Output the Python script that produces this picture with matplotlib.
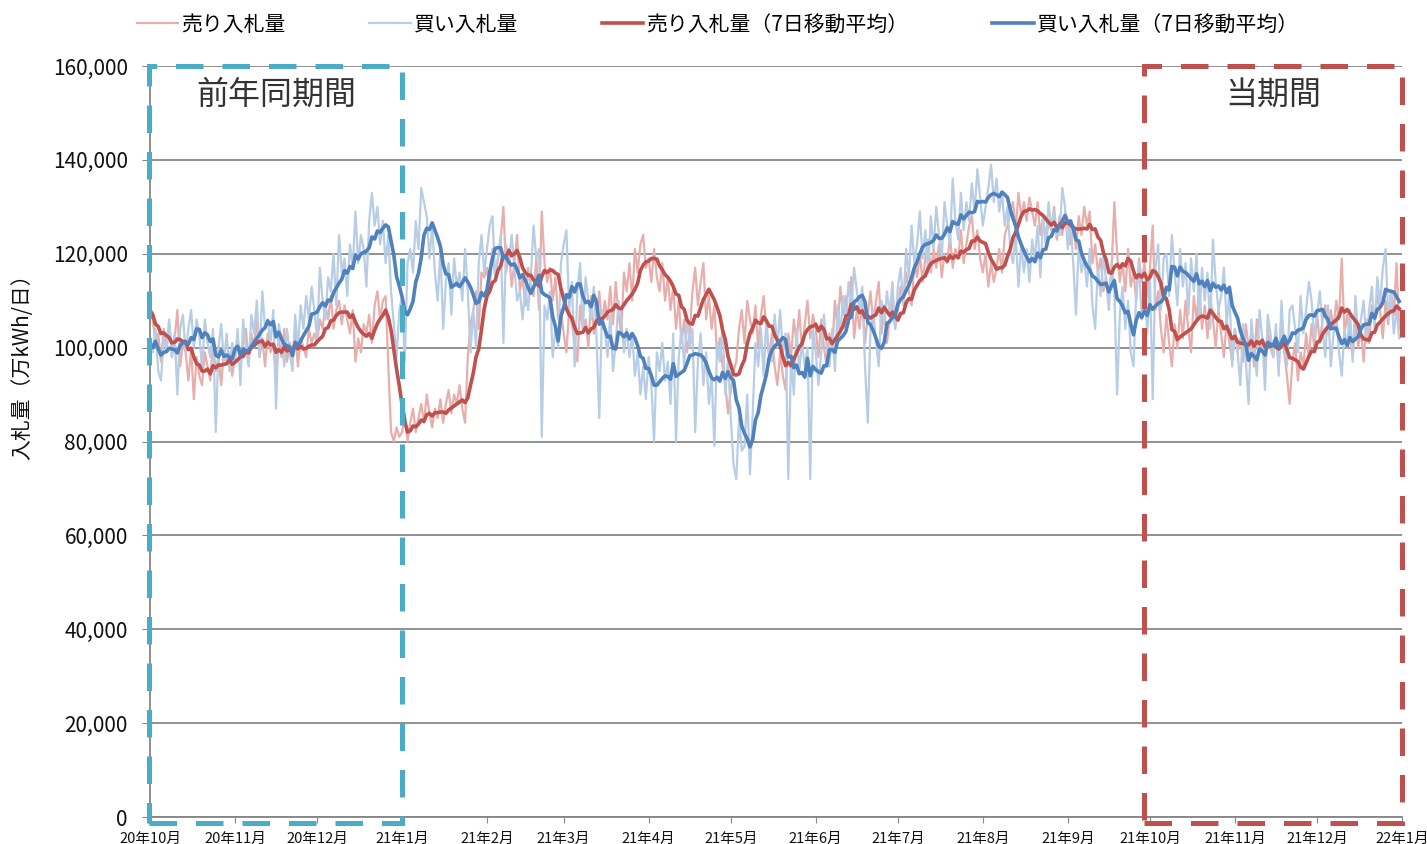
import matplotlib
matplotlib.use("Agg")
import matplotlib.pyplot as plt
import matplotlib.dates as mdates
from matplotlib.patches import Rectangle
from matplotlib.ticker import FuncFormatter
import numpy as np
import pandas as pd

plt.rcParams['font.family'] = ['Noto Sans CJK JP', 'DejaVu Sans']

# Daily bid volumes from 2020-10-01, in thousands of 万kWh/日
start_date = "2020-10-01"
sell_k = [
    # 2020-10
    108, 106, 101, 103, 97, 104, 99, 105, 98, 102, 108, 96, 101, 99, 93, 100,
    89, 98, 94, 92, 99, 96, 93, 101, 95, 98, 92, 100, 97, 99, 94,
    # 2020-11
    98, 102, 96, 101, 104, 97, 103, 100, 106, 98, 102, 96, 103, 99, 101, 94,
    102, 98, 104, 97, 101, 99, 103, 96, 102, 100, 98, 104, 101, 103,
    # 2020-12
    101, 106, 104, 109, 106, 111, 104, 108, 110, 105, 109, 106, 103, 108, 97, 102,
    99, 105, 103, 107, 101, 109, 112, 106, 110, 111, 96, 82, 80, 83, 81,
    # 2021-01
    82, 86, 80, 84, 87, 82, 85, 88, 84, 90, 86, 83, 87, 85, 89, 84,
    88, 91, 86, 90, 88, 92, 87, 84, 98, 105, 108, 112, 104, 116, 115,
    # 2021-02
    117, 112, 121, 115, 119, 123, 130, 116, 121, 113, 118, 124, 112, 115,
    109, 117, 113, 111, 119, 108, 129, 118, 114, 117, 110, 115, 106, 108,
    # 2021-03
    103, 99, 108, 105, 101, 97, 109, 104, 106, 100, 111, 103, 107, 112, 104, 110,
    106, 113, 105, 114, 107, 103, 116, 112, 118, 110, 121, 116, 122, 124, 117,
    # 2021-04
    119, 114, 121, 115, 112, 118, 110, 115, 108, 113, 104, 110, 101, 106, 99,
    103, 112, 117, 109, 114, 118, 106, 111, 104, 109, 98, 102, 96, 92, 86,
    # 2021-05
    91, 95, 97, 104, 108, 101, 110, 106, 103, 109, 100, 107, 111, 104, 98, 103,
    96, 92, 99, 94, 91, 103, 98, 106, 101, 108, 99, 105, 110, 102, 107,
    # 2021-06
    104, 98, 106, 100, 96, 103, 99, 110, 104, 113, 107, 111, 105, 115, 102,
    108, 104, 110, 101, 107, 112, 105, 110, 114, 103, 109, 101, 106, 110, 104,
    # 2021-07
    108, 113, 110, 116, 112, 109, 118, 115, 120, 114, 119, 123, 116, 121, 117, 122,
    115, 120, 118, 124, 117, 121, 119, 125, 118, 122, 126, 128, 121, 125, 119,
    # 2021-08
    116, 120, 113, 118, 114, 117, 121, 116, 124, 126, 129, 131, 125, 133, 128, 131,
    127, 132, 129, 126, 131, 124, 128, 122, 127, 125, 130, 123, 128, 124, 129,
    # 2021-09
    127, 122, 126, 121, 128, 124, 130, 126, 129, 118, 122, 116, 119, 112, 115,
    110, 117, 131, 120, 114, 118, 112, 121, 113, 116, 110, 119, 114, 118, 111,
    # 2021-10
    117, 126, 108, 112, 104, 99, 107, 101, 96, 105, 100, 108, 102, 110, 104, 99,
    111, 106, 113, 104, 109, 102, 111, 106, 100, 108, 103, 98, 106, 101, 97,
    # 2021-11
    104, 99, 102, 97, 105, 100, 103, 96, 106, 99, 102, 95, 104, 100, 98,
    103, 96, 107, 99, 94, 88, 97, 101, 93, 99, 96, 103, 98, 105, 100,
    # 2021-12
    107, 101, 106, 109, 103, 108, 104, 110, 106, 119, 103, 107, 102, 98, 105, 100,
    104, 97, 106, 101, 109, 106, 111, 108, 102, 110, 105, 112, 107, 118, 104,
]
buy_k = [
    # 2020-10
    101, 99, 104, 95, 93, 102, 100, 106, 98, 103, 90, 104, 107, 99, 104, 108,
    100, 106, 103, 95, 106, 101, 98, 104, 82, 100, 105, 97, 103, 95, 101,
    # 2020-11
    97, 104, 92, 106, 100, 96, 107, 103, 110, 98, 112, 104, 106, 101, 108,
    87, 105, 102, 96, 104, 99, 95, 107, 100, 109, 104, 111, 106, 113, 108,
    # 2020-12
    102, 117, 110, 106, 115, 112, 120, 109, 124, 116, 119, 111, 122, 117, 129, 118,
    124, 121, 113, 127, 133, 126, 130, 122, 127, 118, 124, 112, 105, 98, 108,
    # 2021-01
    111, 97, 118, 121, 116, 127, 121, 134, 131, 128, 119, 126, 116, 110, 121, 104,
    114, 118, 107, 119, 113, 116, 110, 121, 112, 99, 108, 100, 118, 124, 116,
    # 2021-02
    121, 126, 128, 115, 119, 124, 101, 122, 118, 124, 117, 110, 112, 106,
    113, 108, 115, 126, 119, 121, 81, 109, 106, 112, 98, 104, 100, 118,
    # 2021-03
    122, 125, 108, 114, 96, 112, 118, 104, 115, 110, 106, 113, 102, 85, 108, 104,
    98, 107, 95, 101, 110, 106, 99, 104, 98, 103, 94, 99, 90, 96, 89,
    # 2021-04
    98, 92, 80, 99, 95, 101, 93, 97, 88, 103, 80, 98, 104, 96, 107,
    100, 104, 82, 97, 103, 92, 99, 88, 94, 79, 101, 97, 105, 90, 98,
    # 2021-05
    85, 75, 72, 85, 78, 79, 90, 73, 86, 101, 96, 104, 94, 106, 98, 97,
    107, 100, 108, 99, 103, 72, 98, 90, 104, 95, 101, 96, 100, 72, 104,
    # 2021-06
    99, 92, 99, 107, 100, 96, 104, 95, 109, 103, 111, 106, 114, 108, 117,
    112, 108, 113, 96, 84, 104, 108, 101, 96, 110, 105, 112, 107, 114, 104,
    # 2021-07
    113, 117, 109, 121, 115, 126, 118, 122, 129, 119, 125, 116, 128, 121, 130, 124,
    119, 131, 126, 122, 136, 127, 123, 133, 125, 131, 127, 135, 129, 138, 132,
    # 2021-08
    126, 130, 134, 139, 131, 136, 129, 133, 126, 130, 121, 118, 124, 113, 122, 116,
    121, 114, 123, 119, 126, 115, 128, 122, 131, 125, 129, 124, 124, 134, 130,
    # 2021-09
    121, 127, 118, 107, 122, 116, 119, 113, 121, 109, 104, 117, 111, 120, 114,
    108, 118, 112, 90, 107, 113, 104, 110, 99, 96, 112, 118, 106, 114, 103,
    # 2021-10
    115, 89, 117, 122, 108, 119, 120, 111, 124, 116, 109, 121, 113, 118, 107, 119,
    112, 120, 106, 117, 110, 116, 104, 123, 114, 108, 111, 117, 105, 112, 96,
    # 2021-11
    104, 99, 92, 105, 97, 88, 106, 100, 94, 108, 102, 91, 107, 103, 98,
    105, 94, 110, 100, 96, 108, 109, 104, 99, 111, 103, 108, 114, 110, 102,
    # 2021-12
    107, 112, 104, 98, 109, 96, 103, 107, 99, 94, 104, 100, 108, 97, 111, 102,
    106, 110, 101, 108, 113, 104, 115, 109, 117, 121, 106, 112, 103, 108, 102,
]

series_labels = ["売り入札量", "買い入札量", "売り入札量（7日移動平均）", "買い入札量（7日移動平均）"]
month_labels = ["20年10月", "20年11月", "20年12月", "21年1月", "21年2月", "21年3月",
                "21年4月", "21年5月", "21年6月", "21年7月", "21年8月", "21年9月",
                "21年10月", "21年11月", "21年12月", "22年1月"]
period_labels = ["前年同期間", "当期間"]

sell = pd.Series(np.array(sell_k) * 1000.0,
                 index=pd.date_range(start_date, periods=len(sell_k), freq="D"))
buy = pd.Series(np.array(buy_k) * 1000.0,
                index=pd.date_range(start_date, periods=len(buy_k), freq="D"))
sell_ma = sell.rolling(7, min_periods=1).mean()
buy_ma = buy.rolling(7, min_periods=1).mean()

fig = plt.figure(figsize=(14.27, 8.44), dpi=100)
ax = fig.add_axes([150 / 1427, 27 / 844, 1252 / 1427, 751 / 844])

l1, = ax.plot(sell.index, sell.values, color="#e8aeac", lw=1.6, zorder=2)
l2, = ax.plot(buy.index, buy.values, color="#b7cde5", lw=1.6, zorder=2)
l3, = ax.plot(sell_ma.index, sell_ma.values, color="#c0504d", lw=2.6, zorder=3)
l4, = ax.plot(buy_ma.index, buy_ma.values, color="#4f81bd", lw=2.6, zorder=4)

# axes
x0 = mdates.date2num(pd.Timestamp("2020-10-01"))
x1 = mdates.date2num(pd.Timestamp("2022-01-01"))
ax.set_xlim(x0, x1)
ax.set_ylim(0, 160000)
ax.set_yticks(np.arange(0, 160001, 20000))
ax.yaxis.set_major_formatter(FuncFormatter(lambda v, p: f"{v:,.0f}"))
ax.set_xticks(pd.date_range("2020-10-01", "2022-01-01", freq="MS"))
ax.set_xticklabels(month_labels)
ax.tick_params(axis="y", labelsize=15, length=6, color="#868686", pad=10, labelcolor="#111111")
ax.tick_params(axis="x", labelsize=10.5, length=4, color="#868686", pad=7, labelcolor="#111111")
ax.yaxis.grid(True, color="#888888", lw=1.3)
ax.set_axisbelow(True)
for s in ["top", "right"]:
    ax.spines[s].set_visible(False)
for s in ["left", "bottom"]:
    ax.spines[s].set_color("#868686")
    ax.spines[s].set_linewidth(1.3)

# period boxes
dash = (0, (5.5, 3.8))
prev_box = Rectangle((x0 - 0.5, -1300), mdates.date2num(pd.Timestamp("2021-01-01")) - x0 + 0.5, 161300,
                     fill=False, ec="#4bacc6", lw=3.6, ls=dash, clip_on=False, zorder=6)
cur_start = mdates.date2num(pd.Timestamp("2021-09-29"))
cur_box = Rectangle((cur_start, -1300), x1 - cur_start, 161300,
                    fill=False, ec="#c0504d", lw=3.6, ls=dash, clip_on=False, zorder=6)
ax.add_patch(prev_box)
ax.add_patch(cur_box)
ax.text(x0 + 46, 153800, period_labels[0], ha="center", va="center", fontsize=23, color="#333333")
ax.text((cur_start + x1) / 2, 153800, period_labels[1], ha="center", va="center", fontsize=23, color="#333333")

fig.text(22 / 1427, 1 - 362 / 844, "入札量（万kWh/日）", rotation=90, ha="center", va="center",
         fontsize=15, color="#111111")

fig.legend([l1, l2, l3, l4], series_labels, loc="upper center", bbox_to_anchor=(0.503, 1.006),
           ncol=4, frameon=False, fontsize=15, handlelength=2.0, handletextpad=0.15,
           columnspacing=4.0)

fig.savefig("out.png", dpi=100)
